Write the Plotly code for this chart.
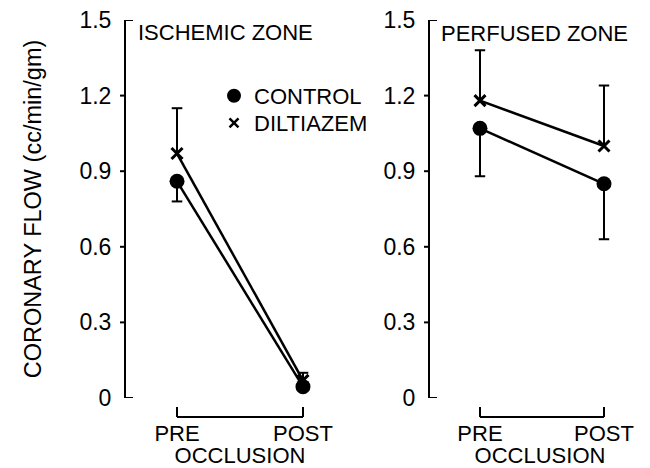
import plotly.graph_objects as go

# ---------------- data ----------------
stages = ["PRE", "POST"]
y_tick_vals = [0, 0.3, 0.6, 0.9, 1.2, 1.5]
y_tick_text = ["0", "0.3", "0.6", "0.9", "1.2", "1.5"]
series_names = ["CONTROL", "DILTIAZEM"]
panel_titles = ["ISCHEMIC ZONE", "PERFUSED ZONE"]
x_title = "OCCLUSION"
y_title = "CORONARY FLOW (cc/min/gm)"

isch_control = [0.86, 0.045]
isch_control_err = [0.08, 0.0]     # drawn below the mean
isch_dilt = [0.97, 0.07]
isch_dilt_err = [0.18, 0.03]       # drawn above the mean

perf_control = [1.07, 0.85]
perf_control_err = [0.19, 0.22]    # drawn below the mean
perf_dilt = [1.18, 1.00]
perf_dilt_err = [0.20, 0.24]       # drawn above the mean

# ---------------- style ----------------
# the page body has an 8px margin, so the figure starts at (8, 8)
W, H = 642, 460
FONT = "Liberation Sans, Arial, sans-serif"
BLACK = "black"
CAP = 0.042   # half cap width in x units

xpos = list(range(len(stages)))

fig = go.Figure()


def err_lines(vals, errs, direction):
    xs, ys = [], []
    for x, v, e in zip(xpos, vals, errs):
        if e <= 0:
            continue
        end = v + direction * e
        xs += [x, x, None, x - CAP, x + CAP, None]
        ys += [v, end, None, end, end, None]
    return xs, ys


panels = [
    ("x", "y", isch_control, isch_control_err, isch_dilt, isch_dilt_err),
    ("x2", "y2", perf_control, perf_control_err, perf_dilt, perf_dilt_err),
]

for xa, ya, c, ce, d, de in panels:
    ex, ey = err_lines(c, ce, -1)
    fig.add_trace(go.Scatter(x=ex, y=ey, mode="lines", xaxis=xa, yaxis=ya,
                             line=dict(color=BLACK, width=2), showlegend=False,
                             hoverinfo="skip", cliponaxis=False))
    ex, ey = err_lines(d, de, 1)
    fig.add_trace(go.Scatter(x=ex, y=ey, mode="lines", xaxis=xa, yaxis=ya,
                             line=dict(color=BLACK, width=2), showlegend=False,
                             hoverinfo="skip", cliponaxis=False))
    fig.add_trace(go.Scatter(x=xpos, y=c, mode="lines+markers", xaxis=xa, yaxis=ya,
                             line=dict(color=BLACK, width=2.5),
                             marker=dict(symbol="circle", size=15, color=BLACK),
                             showlegend=False, cliponaxis=False, name=series_names[0]))
    fig.add_trace(go.Scatter(x=xpos, y=d, mode="lines+markers", xaxis=xa, yaxis=ya,
                             line=dict(color=BLACK, width=2.5),
                             marker=dict(symbol="x-thin", size=11,
                                         line=dict(color=BLACK, width=3)),
                             showlegend=False, cliponaxis=False, name=series_names[1]))

# legend entries (two legends so the rows can sit close together)
fig.add_trace(go.Scatter(x=[None], y=[None], mode="markers", name=series_names[0],
                         legend="legend",
                         marker=dict(symbol="circle", size=14, color=BLACK)))
fig.add_trace(go.Scatter(x=[None], y=[None], mode="markers", name=series_names[1],
                         legend="legend2",
                         marker=dict(symbol="x-thin", size=9,
                                     line=dict(color=BLACK, width=2.5))))

ydom = [70 / H, 448 / H]
xdoms = [[118 / W, 346 / W], [422 / W, 642 / W]]
xranges = [[-0.405, 1.405], [-0.403, 1.371]]

for i, (xd, xr) in enumerate(zip(xdoms, xranges)):
    sfx = "" if i == 0 else str(i + 1)
    fig.layout["xaxis" + sfx] = dict(
        domain=xd, range=xr, anchor="y" + sfx, showline=False, showgrid=False,
        zeroline=False, ticks="", tickvals=xpos, ticktext=stages, automargin=False,
        tickfont=dict(size=22, color=BLACK, family=FONT), ticklabelstandoff=20,
        ticklabeloverflow="allow",
        title=dict(text=x_title, font=dict(size=22, color=BLACK, family=FONT), standoff=1),
    )
    fig.layout["yaxis" + sfx] = dict(
        domain=ydom, range=[0, 1.5], anchor="x" + sfx, showline=True, automargin=False,
        linecolor=BLACK, linewidth=2, showgrid=False, zeroline=False, ticks="",
        tickvals=y_tick_vals, ticktext=y_tick_text, ticklabelstandoff=8,
        ticklabeloverflow="allow",
        tickfont=dict(size=23, color=BLACK, family=FONT),
    )
    # tick marks: 0 and 1.5 point inward, the rest outward
    for t in y_tick_vals:
        inward = t in (y_tick_vals[0], y_tick_vals[-1])
        fig.add_shape(type="line", xref="x" + sfx + " domain", yref="y" + sfx,
                      xsizemode="pixel", xanchor=0, x0=0, x1=(7 if inward else -6),
                      y0=t, y1=t, line=dict(color=BLACK, width=2))
    # occlusion bracket below the axis
    fig.add_shape(type="line", xref="x" + sfx, yref="y" + sfx + " domain",
                  ysizemode="pixel", yanchor=0, x0=xpos[0], x1=xpos[-1], y0=-19, y1=-19,
                  line=dict(color=BLACK, width=2))
    for xp in xpos:
        fig.add_shape(type="line", xref="x" + sfx, yref="y" + sfx + " domain",
                      ysizemode="pixel", yanchor=0, x0=xp, x1=xp, y0=-19, y1=-9,
                      line=dict(color=BLACK, width=2))

fig.layout.yaxis.title = dict(text=y_title, font=dict(size=23.5, color=BLACK, family=FONT),
                              standoff=31)

fig.add_annotation(text=panel_titles[0], xref="paper", yref="paper", x=128 / W,
                   y=1 - 24 / H, xanchor="left", yanchor="middle", showarrow=False,
                   font=dict(size=22, color=BLACK, family=FONT))
fig.add_annotation(text=panel_titles[1], xref="paper", yref="paper", x=431 / W,
                   y=1 - 25 / H, xanchor="left", yanchor="middle", showarrow=False,
                   font=dict(size=22, color=BLACK, family=FONT))

legend_common = dict(xanchor="left", yanchor="top", bgcolor="rgba(0,0,0,0)",
                     font=dict(size=22, color=BLACK, family=FONT), itemwidth=30)
fig.update_layout(
    width=W, height=H, margin=dict(l=0, r=0, t=0, b=0),
    template="none", paper_bgcolor="white", plot_bgcolor="white",
    font=dict(family=FONT, color=BLACK, size=22),
    legend=dict(x=206 / W, y=1 - 67 / H, **legend_common),
    legend2=dict(x=206 / W, y=1 - 94 / H, **legend_common),
    showlegend=True,
)

fig.write_html("out.html")
